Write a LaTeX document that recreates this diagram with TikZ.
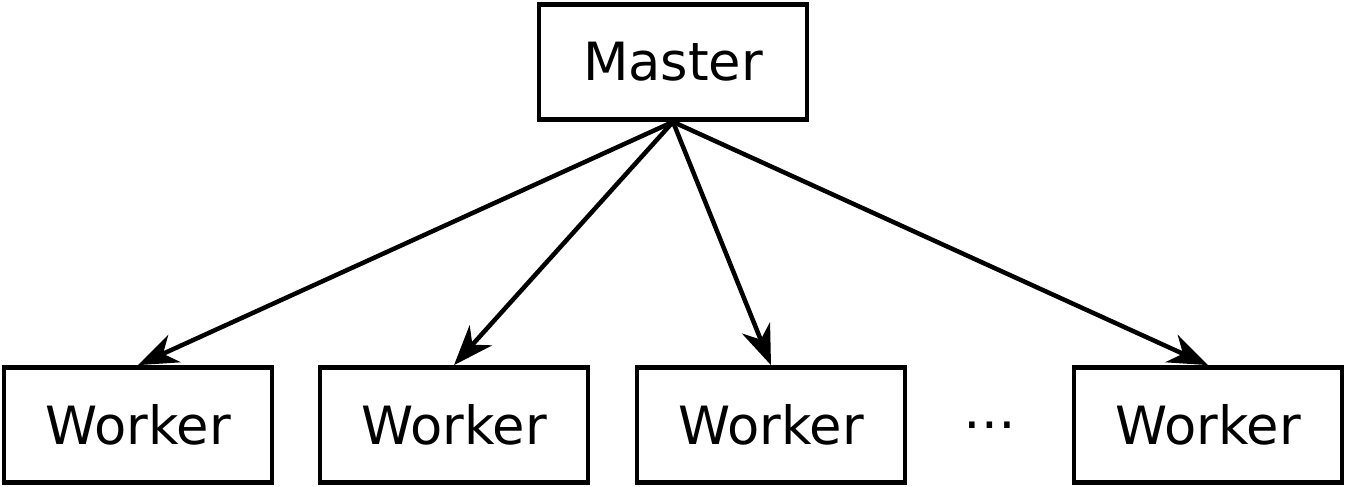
\documentclass[tikz,border=0pt]{standalone}
\usepackage{fontspec}
\setmainfont{DejaVu Sans}
\usepackage{tikz}
\usetikzlibrary{arrows.meta}

\begin{document}
\begin{tikzpicture}[x=0.02cm,y=-0.02cm]
\tikzstyle{box}=[draw,line width=0.095cm,minimum width=5.36cm,minimum height=2.3cm,inner sep=0pt,font=\fontsize{30}{36}\selectfont]
\tikzstyle{link}=[line width=0.09cm,-{Stealth[length=0.8cm,width=0.6cm,inset=0.25cm]}]
\useasboundingbox (0,0) rectangle (1347,487);
\node[box] (master) at (673,62) {Master};
\foreach \name/\point in {
	w1/{138,425},
	w2/{454,425},
	w3/{771,425},
	w4/{1208,425}}
	\node[box] (\name) at (\point) {Worker};
\node[font=\fontsize{30}{36}\selectfont] (dots) at (990,425) {…};
\foreach \name in {w1,w2,w3,w4}
	\draw[link] (master.south) -- (\name.north);
\end{tikzpicture}
\end{document}
